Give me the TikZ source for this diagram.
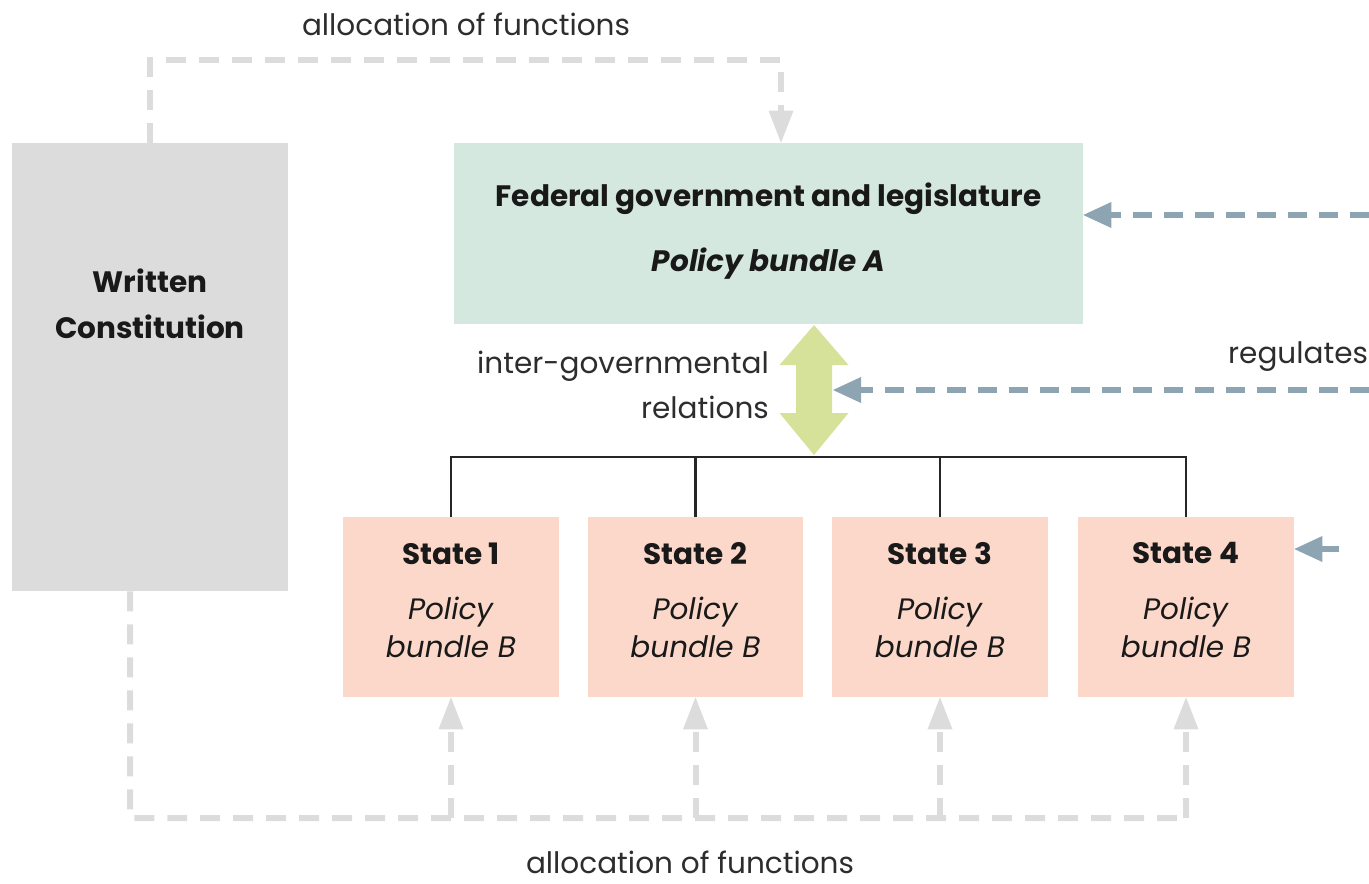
\documentclass[tikz,border=0pt]{standalone}
\usepackage{fontspec}
\setmainfont{Poppins}
\usepackage{tikz}
\usetikzlibrary{arrows.meta, positioning}
\definecolor{constgray}{RGB}{220,220,220}
\definecolor{fedgreen}{RGB}{212,232,223}
\definecolor{statepeach}{RGB}{252,216,202}
\definecolor{iglime}{RGB}{214,226,154}
\definecolor{regblue}{RGB}{141,165,178}
\definecolor{lbltext}{RGB}{45,45,45}

\begin{document}
\begin{tikzpicture}[x=0.02cm, y=-0.02cm,
        box/.style={rectangle, inner sep=0pt, align=center, text=black!90},
        constbox/.style={box, fill=constgray, minimum width=5.52cm, minimum height=8.96cm},
        fedbox/.style={box, fill=fedgreen, minimum width=12.58cm, minimum height=3.62cm, font=\fontsize{16.8}{26}\selectfont},
        statebox/.style={box, fill=statepeach, minimum width=4.32cm, minimum height=3.6cm, font=\fontsize{16.8}{21.6}\selectfont},
        alloc/.style={constgray, line width=0.12cm, dash pattern=on 0.4cm off 0.26cm},
        allocarrow/.style={alloc, -{Triangle[length=0.64cm, width=0.5cm, line width=0pt]}},
        regarrow/.style={regblue, line width=0.12cm, dash pattern=on 0.38cm off 0.24cm, -{Triangle[length=0.56cm, width=0.52cm, line width=0pt]}},
        tree/.style={black!85, line width=0.05cm},
        lbl/.style={font=\fontsize{16.8}{26}\selectfont, text=lbltext}]
        \useasboundingbox (0,0) rectangle (1369,883);
        \clip (0,0) rectangle (1369,883);

        \node (const) at (150,367) [constbox] {};
        \node (constlbl) at (150,304) [box, font=\fontsize{16.8}{26}\selectfont\bfseries] {Written\\Constitution};
        \node (fed) at (768.5,233.5) [fedbox] {\textbf{Federal government and legislature}\\[11pt]\textbf{\textit{Policy bundle A}}\\[-19pt]\mbox{}};
        \foreach \i/\x in {1/451, 2/695.5, 3/940, 4/1186}
            \node (s\i) at (\x,607) [statebox] {\textbf{State \i}\\[10pt]\textit{Policy}\\\textit{bundle B}\\[-13.6pt]\mbox{}};

        \coordinate (bar) at (814,457);
        \draw[tree] (s1.north) -- (s1.north |- bar) -- (s4.north |- bar) -- (s4.north);
        \foreach \s in {s2,s3}
            \draw[tree] (\s.north) -- (\s.north |- bar);

        \fill[iglime] (814,325) -- (848.5,365) -- (832,365) -- (832,413) -- (848.5,413) -- (814,455)
            -- (779.5,413) -- (796,413) -- (796,365) -- (779.5,365) -- cycle;
        \node (iglbl) at (775,385) [lbl, anchor=east, align=right] {inter-governmental\\relations};

        \draw[allocarrow] (const.north) -- ++(0,-83) -| ([xshift=0.25cm]fed.north);
        \node (alloctop) at (466,24) [lbl] {allocation of functions};

        \coordinate (lowL) at (130,818);
        \draw[alloc] ([xshift=-0.4cm]const.south) -- (lowL) -- (s4.south |- lowL);
        \foreach \s in {s1,s2,s3,s4}
            \draw[allocarrow] (\s.south |- lowL) -- (\s.south);
        \node (allocbot) at (690,862) [lbl] {allocation of functions};

        \coordinate (rimA) at (1369,215);
        \coordinate (rimB) at (1369,390);
        \coordinate (rimC) at (1339,549);
        \coordinate (igmid) at (833,390);
        \draw[regarrow] (rimA) -- (fed.east |- rimA);
        \draw[regarrow] (rimB) -- (igmid);
        \draw[regarrow] (rimC) -- (s4.east |- rimC);
        \node (reglbl) at (1222,357) [lbl, anchor=west] {regulates};
    \end{tikzpicture}
\end{document}
